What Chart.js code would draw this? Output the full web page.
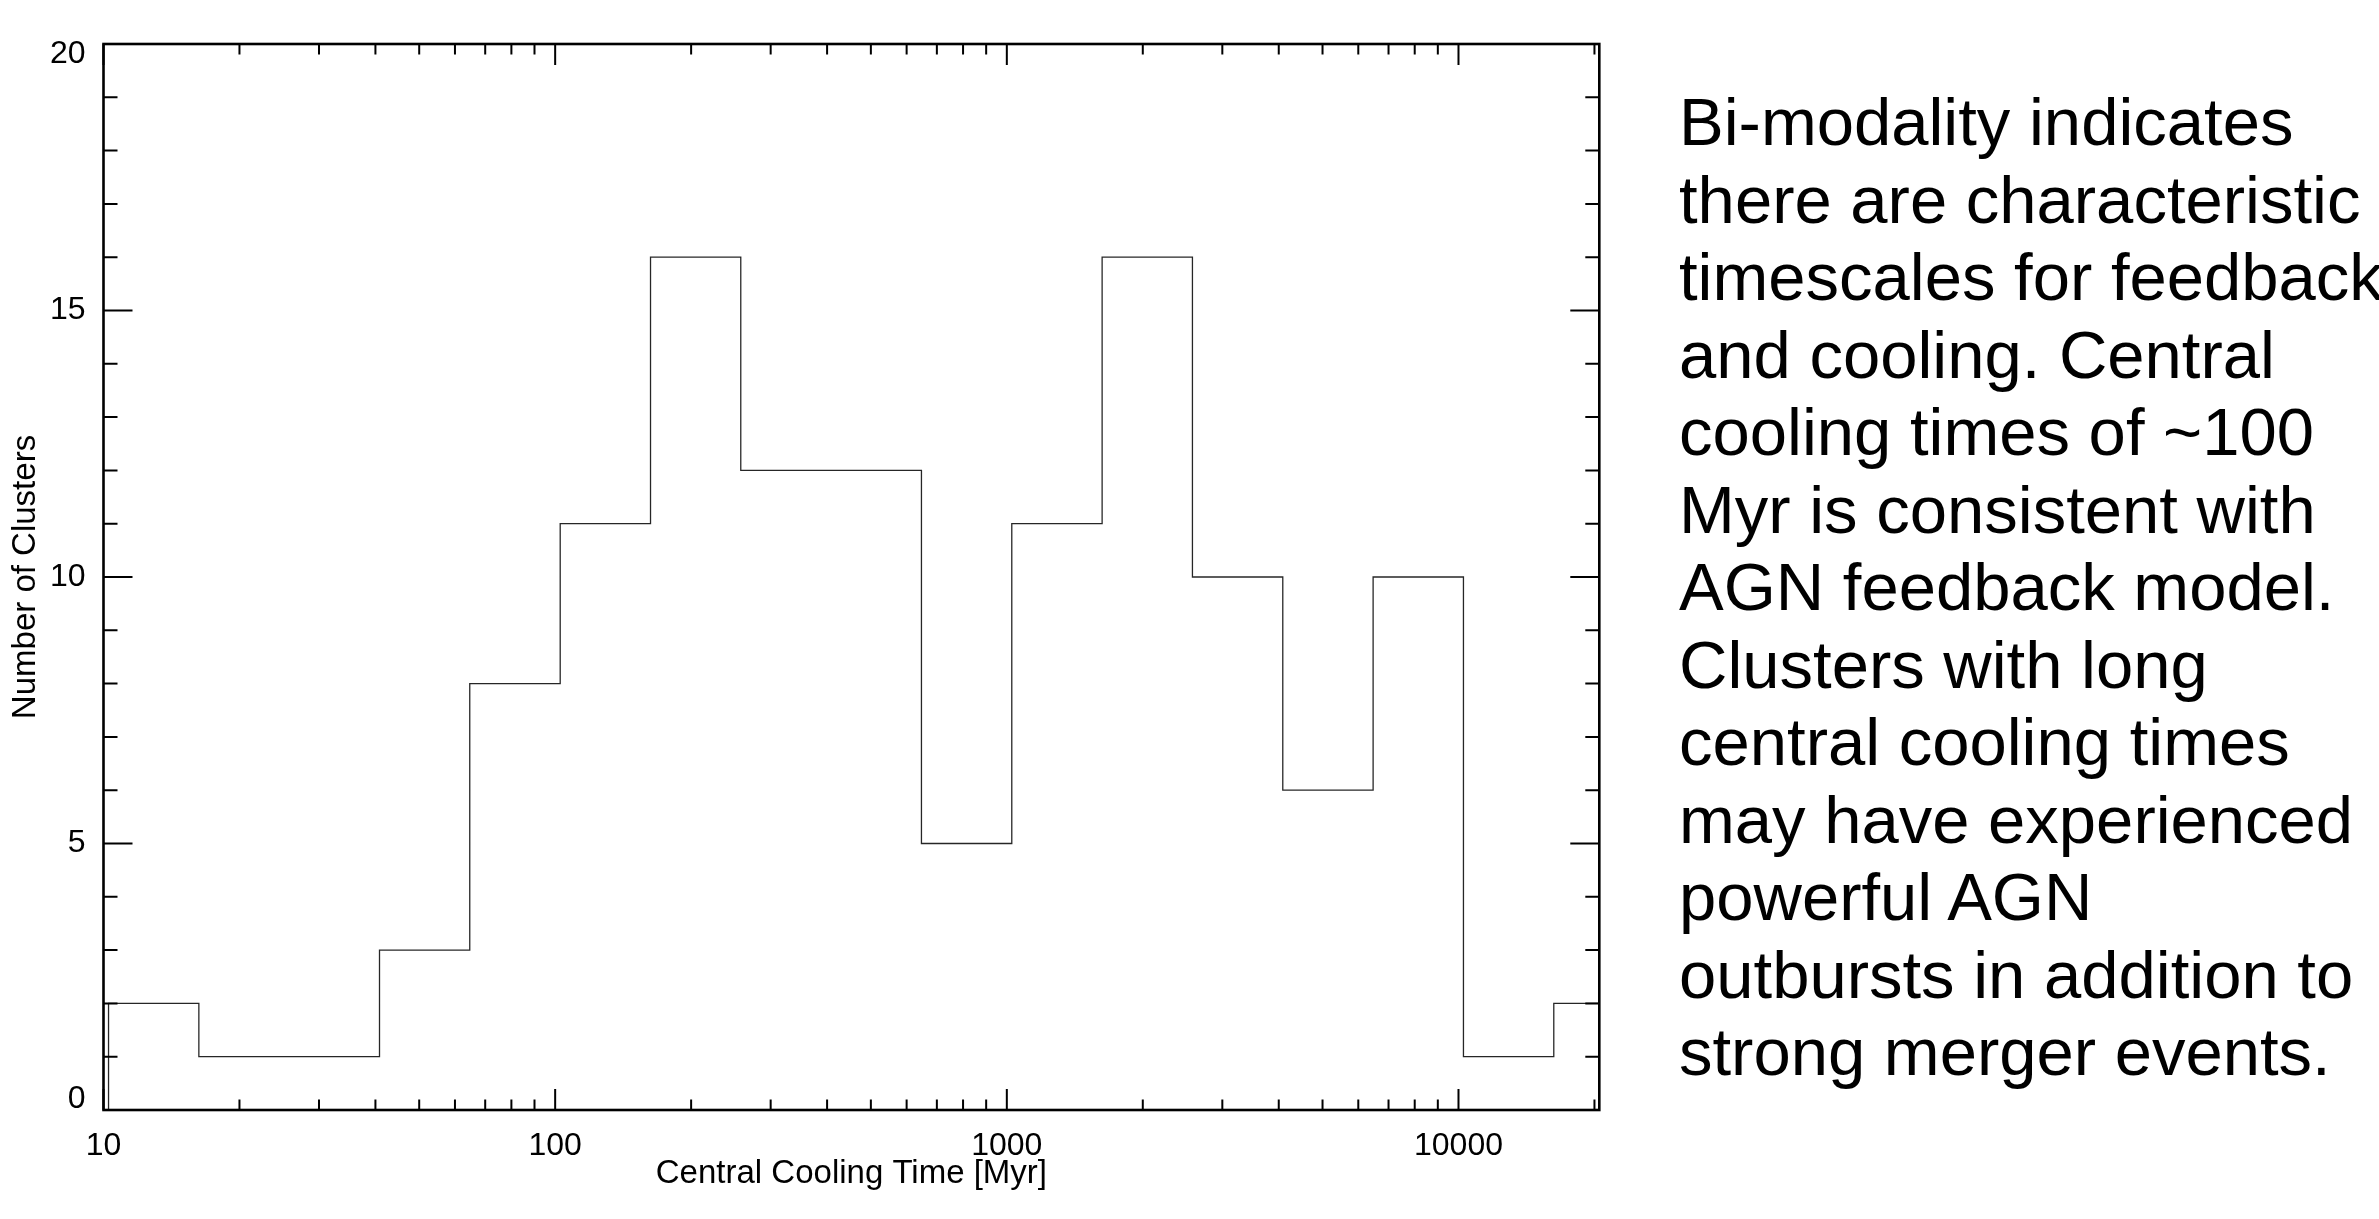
<!DOCTYPE html>
<html>
<head>
<meta charset="utf-8">
<script src="https://cdn.jsdelivr.net/npm/chart.js@4.4.1/dist/chart.umd.min.js"></script>
<style>
  html, body { margin: 0; padding: 0; background: #fff; overflow: hidden; }
  body { width: 2379px; height: 1219px; position: relative; }
  #wrap { position: absolute; left: 0; top: 0; width: 1640px; height: 1219px; }
  #note {
    position: absolute; left: 1679px; top: 83px;
    font-family: "Liberation Sans", Arial, Helvetica, sans-serif;
    font-size: 67px; line-height: 77.5px; color: #000;
    white-space: nowrap;
  }
</style>
</head>
<body>
<div id="wrap"><canvas id="hist" width="1640" height="1219"></canvas></div>
<div id="note">
Bi-modality indicates<br>
there are characteristic<br>
timescales for feedback<br>
and cooling. Central<br>
cooling times of ~100<br>
Myr is consistent with<br>
AGN feedback model.<br>
Clusters with long<br>
central cooling times<br>
may have experienced<br>
powerful AGN<br>
outbursts in addition to<br>
strong merger events.
</div>
<script>
// histogram bin edges (Myr) and counts
const binEdges = [10.26, 16.26, 25.77, 40.84, 64.7, 102.6, 162.6, 257.6, 408.3, 647.1,
                  1025.6, 1625.5, 2576, 4083, 6471, 10256, 16255, 25762]
const binCounts = [2, 1, 1, 3, 8, 11, 16, 12, 12, 5, 11, 16, 10, 6, 10, 1, 2]

const xTickLabels = [10, 100, 1000, 10000]
const yTickLabels = [0, 5, 10, 15, 20]
const xRange = [10, 20500]
const yRange = [0, 20]

const FONT = '"Liberation Sans", Arial, Helvetica, sans-serif'

// outline of the histogram: start at zero, then one point per bin edge
let pts = [{x: binEdges[0], y: 0}]
for (let i = 0; i < binCounts.length; i++) {
    pts.push({x: binEdges[i], y: binCounts[i]})
}
pts.push({x: binEdges[binEdges.length - 1], y: binCounts[binCounts.length - 1]})

// minor tick values (2..9 per decade on x, every unit on y)
let xMinor = []
for (let d = 10; d < xRange[1]; d *= 10) {
    for (let k = 2; k <= 9; k++) if (k * d <= xRange[1]) xMinor.push(k * d)
}
let yMinor = []
for (let v = yRange[0]; v <= yRange[1]; v++) if (v % 5) yMinor.push(v)

// IDL-like frame with inward ticks on all four sides
const frame = {
    id: 'frame',
    afterDraw(chart) {
        const {ctx, chartArea: a, scales: {x, y}} = chart
        ctx.save()
        ctx.strokeStyle = '#000'
        ctx.lineCap = 'butt'
        ctx.lineWidth = 2
        const tickX = (v, len) => {
            const px = x.getPixelForValue(v)
            ctx.beginPath()
            ctx.moveTo(px, a.bottom); ctx.lineTo(px, a.bottom - len)
            ctx.moveTo(px, a.top); ctx.lineTo(px, a.top + len)
            ctx.stroke()
        }
        const tickY = (v, len) => {
            const py = y.getPixelForValue(v)
            ctx.beginPath()
            ctx.moveTo(a.left, py); ctx.lineTo(a.left + len, py)
            ctx.moveTo(a.right, py); ctx.lineTo(a.right - len, py)
            ctx.stroke()
        }
        xMinor.forEach(v => tickX(v, 10.5))
        xTickLabels.forEach(v => tickX(v, 21))
        yMinor.forEach(v => tickY(v, 14))
        yTickLabels.forEach(v => tickY(v, 29))
        ctx.lineWidth = 2.6
        ctx.strokeRect(a.left, a.top, a.right - a.left, a.bottom - a.top)
        ctx.restore()
    }
}

new Chart(document.getElementById('hist'), {
    type: 'line',
    data: {
        datasets: [{
            data: pts,
            stepped: 'before',
            borderColor: 'rgba(0,0,0,0.85)',
            borderWidth: 1.3,
            pointRadius: 0,
            fill: false
        }]
    },
    options: {
        responsive: false,
        animation: false,
        events: [],
        layout: { padding: { left: 0, top: 44, right: 40.7, bottom: 0 } },
        plugins: { legend: { display: false }, tooltip: { enabled: false } },
        scales: {
            x: {
                type: 'logarithmic',
                min: xRange[0],
                max: xRange[1],
                grid: { display: false },
                border: { display: false },
                afterBuildTicks: s => { s.ticks = xTickLabels.map(v => ({ value: v })) },
                afterFit: s => { s.height = 109 },
                ticks: {
                    autoSkip: false,
                    maxRotation: 0,
                    padding: 9,
                    color: '#000',
                    font: { family: FONT, size: 32 },
                    callback: v => String(v)
                },
                title: {
                    display: true,
                    text: 'Central Cooling Time [Myr]',
                    color: '#000',
                    font: { family: FONT, size: 33 },
                    padding: { top: 0, bottom: 25 }
                }
            },
            y: {
                type: 'linear',
                min: yRange[0],
                max: yRange[1],
                grid: { display: false },
                border: { display: false },
                afterBuildTicks: s => { s.ticks = yTickLabels.map(v => ({ value: v })) },
                afterFit: s => { s.width = 103.5 },
                ticks: {
                    padding: 10,
                    color: '#000',
                    font: c => ({
                        family: FONT, size: 32,
                        lineHeight: (c.tick && (c.tick.value === yRange[0] || c.tick.value === yRange[1])) ? 0.66 : 1.2
                    }),
                    // end labels sit just inside the frame, as in the original
                    callback: v => v === yRange[1] ? ['', String(v)] : (v === yRange[0] ? [String(v), ''] : String(v))
                },
                title: {
                    display: true,
                    text: 'Number of Clusters',
                    color: '#000',
                    font: { family: FONT, size: 33 },
                    padding: { top: 6, bottom: 0 }
                }
            }
        }
    },
    plugins: [frame]
})
</script>
</body>
</html>
